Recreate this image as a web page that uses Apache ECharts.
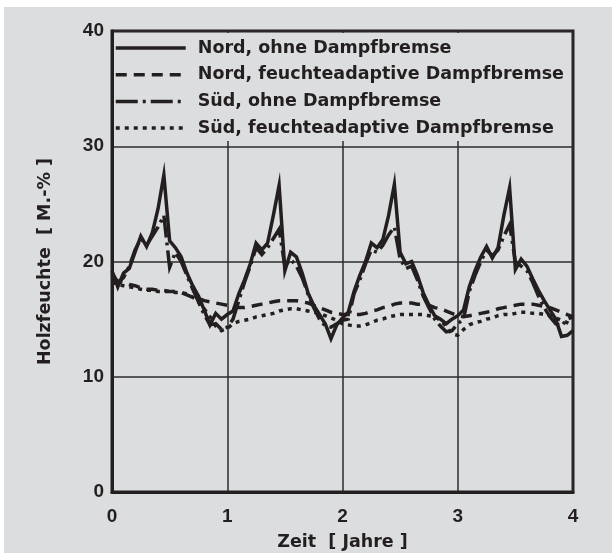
<!DOCTYPE html>
<html>
<head>
<meta charset="utf-8">
<script src="https://cdn.jsdelivr.net/npm/echarts@6/dist/echarts.min.js"></script>
<style>
html,body{margin:0;padding:0;background:#ffffff;}
#bg{position:absolute;left:4px;top:7px;width:608px;height:546px;background:#dcdddf;}
#chart{position:absolute;left:0;top:0;width:612px;height:553px;}
</style>
</head>
<body>
<div id="bg"></div>
<div id="chart"></div>
<script>
// Zeit [Jahre]
const zeit = [0.00,0.05,0.10,0.15,0.20,0.25,0.30,0.35,0.40,0.45,0.50,0.55,0.60,0.65,0.70,0.75,0.80,0.85,0.90,0.95,
  1.00,1.05,1.10,1.15,1.20,1.25,1.30,1.35,1.40,1.45,1.50,1.55,1.60,1.65,1.70,1.75,1.80,1.85,1.90,1.95,
  2.00,2.05,2.10,2.15,2.20,2.25,2.30,2.35,2.40,2.45,2.50,2.55,2.60,2.65,2.70,2.75,2.80,2.85,2.90,2.95,
  3.00,3.05,3.10,3.15,3.20,3.25,3.30,3.35,3.40,3.45,3.50,3.55,3.60,3.65,3.70,3.75,3.80,3.85,3.90,3.95,4.00];

// Holzfeuchte [M.-%]
const nordOhne = [19.2,17.8,19.0,19.4,20.8,22.2,21.3,22.5,24.6,27.5,21.8,21.2,20.4,19.0,17.9,17.0,15.8,14.5,15.5,15.0,
  15.4,15.7,17.2,18.4,19.8,21.6,21.0,21.6,24.0,26.6,19.2,20.8,20.4,19.0,17.3,16.2,15.4,14.6,13.3,14.5,
  15.1,15.6,17.4,18.8,20.0,21.6,21.2,21.9,24.0,26.7,20.8,19.8,20.0,18.8,17.3,16.2,15.3,15.0,14.6,15.0,
  15.3,15.8,17.8,19.2,20.4,21.3,20.3,21.2,24.0,26.4,19.3,20.2,19.6,18.5,17.5,16.6,15.8,15.0,13.5,13.6,14.0];

const nordFeucht = [18.5,18.3,18.2,18.0,17.9,17.7,17.6,17.6,17.5,17.5,17.4,17.4,17.3,17.1,16.9,16.8,16.6,16.5,16.4,16.3,
  16.2,16.1,16.0,16.0,16.1,16.2,16.3,16.4,16.5,16.6,16.6,16.6,16.6,16.5,16.4,16.2,16.0,15.8,15.6,15.5,
  15.4,15.4,15.4,15.4,15.5,15.7,15.8,16.0,16.1,16.3,16.4,16.4,16.4,16.3,16.3,16.2,16.0,15.9,15.7,15.5,
  15.3,15.2,15.3,15.4,15.5,15.6,15.7,15.9,16.0,16.1,16.2,16.3,16.3,16.3,16.2,16.1,16.0,15.8,15.6,15.4,15.2];

const suedOhne = [19.0,18.2,18.6,19.6,21.0,22.0,21.4,22.2,23.0,24.0,19.5,20.8,20.0,18.8,17.6,16.5,15.4,14.5,14.6,14.1,
  14.3,15.0,16.6,18.2,19.6,21.2,20.6,21.2,22.0,22.8,19.6,20.2,19.6,18.6,17.2,16.0,15.0,14.4,14.3,14.6,
  14.9,15.0,17.2,18.4,19.8,21.0,20.8,21.4,22.3,23.0,20.2,19.4,19.6,18.4,17.0,16.0,15.0,14.4,13.9,14.0,
  14.6,15.0,17.4,18.8,20.0,21.0,20.5,21.0,22.2,23.2,20.0,19.6,19.2,18.2,17.0,16.0,15.2,14.6,14.4,15.0,15.2];

const suedFeucht = [18.2,18.0,17.9,17.8,17.7,17.6,17.5,17.5,17.4,17.4,17.4,17.3,17.3,17.2,16.9,16.5,15.9,15.2,14.4,14.0,
  14.2,14.6,14.8,14.9,15.0,15.2,15.3,15.4,15.5,15.7,15.8,15.9,15.9,15.8,15.7,15.6,15.5,15.3,15.1,14.9,
  14.6,14.5,14.4,14.4,14.5,14.7,14.9,15.0,15.2,15.3,15.4,15.4,15.4,15.4,15.4,15.3,15.2,14.9,14.4,13.7,
  13.6,14.1,14.5,14.7,14.8,15.0,15.1,15.3,15.4,15.4,15.5,15.6,15.6,15.5,15.5,15.4,15.3,15.1,14.9,14.7,14.5];

const seriesNames = ['Nord, ohne Dampfbremse','Nord, feuchteadaptive Dampfbremse','Süd, ohne Dampfbremse','Süd, feuchteadaptive Dampfbremse'];
const xTicks = [0,1,2,3,4];
const yTicks = [0,10,20,30,40];

const ink = '#231f20';
const pairs = vals => zeit.map((t,i)=>[t, vals[i]]);
const dashes = ['solid',[11,7],[22,5,3,5],[4,5]];
const valsList = [nordOhne, nordFeucht, suedOhne, suedFeucht];

const chart = echarts.init(document.getElementById('chart'), null, {renderer:'canvas'});
chart.setOption({
  animation:false,
  backgroundColor:'transparent',
  grid:{left:112,right:39,top:31,bottom:61,show:true,borderColor:ink,borderWidth:3,backgroundColor:'transparent',
        containLabel:false,outerBoundsMode:'none'},
  legend:{
    data:seriesNames,
    orient:'vertical',
    left:114, top:33,
    padding:[5,4,3,0],
    backgroundColor:'#dcdddf',
    itemWidth:70, itemHeight:20, itemGap:6.7,
    itemStyle:{color:'transparent',borderColor:'transparent',borderWidth:0,opacity:0},
    lineStyle:{width:3.5,color:ink},
    textStyle:{fontFamily:'DejaVu Sans',fontWeight:'bold',fontSize:17.5,color:ink,lineHeight:20,padding:[0,0,0,7]},
    z:10
  },
  xAxis:{
    type:'value',min:xTicks[0],max:xTicks[xTicks.length-1],interval:1,
    name:'Zeit  [ Jahre ]',nameLocation:'middle',nameGap:41,
    nameTextStyle:{fontFamily:'DejaVu Sans',fontWeight:'bold',fontSize:17.5,color:ink},
    axisLine:{show:true,lineStyle:{color:ink,width:3}},
    axisTick:{show:false},
    axisLabel:{margin:15,fontFamily:'Liberation Sans',fontWeight:'bold',fontSize:19,color:ink},
    splitLine:{show:true,lineStyle:{color:'#2e2b2c',width:1.5}}
  },
  yAxis:{
    type:'value',min:yTicks[0],max:yTicks[yTicks.length-1],interval:10,
    name:'Holzfeuchte  [ M.-% ]',nameLocation:'middle',nameGap:58,nameRotate:90,
    nameTextStyle:{fontFamily:'DejaVu Sans',fontWeight:'bold',fontSize:17.5,color:ink},
    axisLine:{show:true,lineStyle:{color:ink,width:3}},
    axisTick:{show:false},
    axisLabel:{margin:8,fontFamily:'Liberation Sans',fontWeight:'bold',fontSize:19,color:ink,padding:[0,0,9,0]},
    splitLine:{show:true,lineStyle:{color:'#2e2b2c',width:1.5}}
  },
  series: seriesNames.map((n,k)=>({
    name:n,type:'line',symbol:'none',data:pairs(valsList[k]),
    lineStyle:{color:ink,width:3.5,type:dashes[k],cap:'butt',join:'miter'},
    itemStyle:{color:ink},
    z:3
  }))
});
</script>
</body>
</html>
